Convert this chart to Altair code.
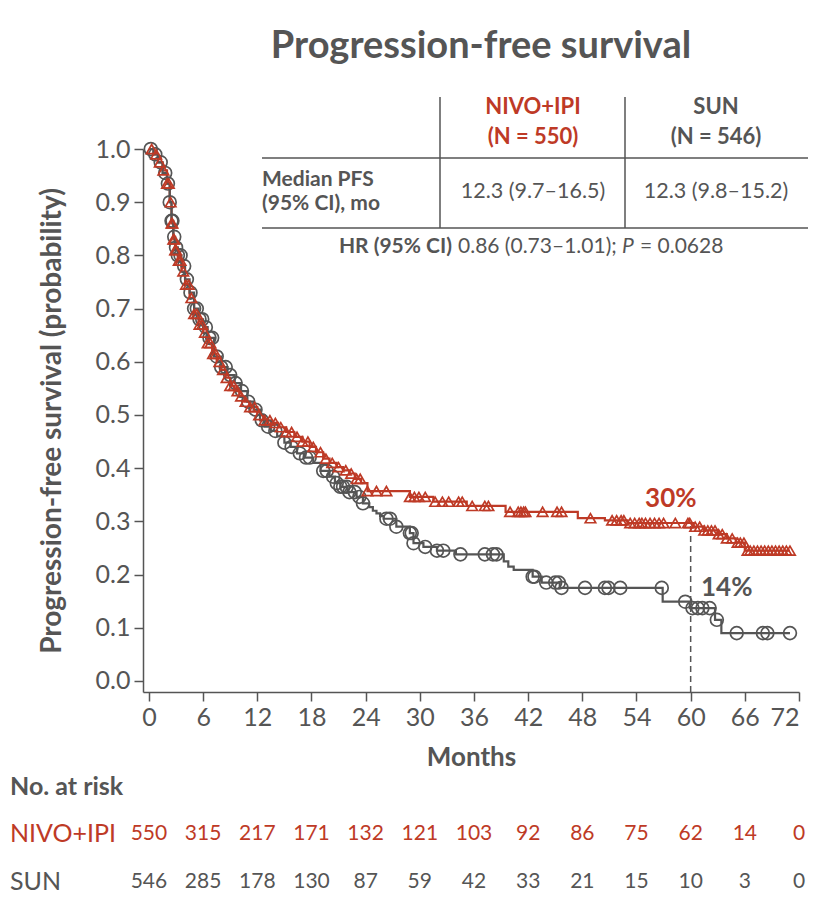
import altair as alt
import pandas as pd
import numpy as np

RED = "#BE3A26"
GRAY = "#555555"
FONT = "Lato"

# ---------------- data ----------------
nivo_t = [0, 0.5, 1.0, 1.5, 2.0, 2.3, 2.5, 2.7, 2.9, 3.2, 3.6, 4.0, 4.5, 5.0, 5.5, 6.0, 6.5, 7.0,
          7.5, 8.0, 8.5, 9.0, 9.5, 10.0, 10.6, 11.2, 12.0, 12.8, 13.5, 14.3, 15.2, 16.1, 17.0, 17.8,
          18.5, 19.3, 20.0, 20.8, 21.5, 22.2, 22.8, 23.5, 24.2, 28.9, 31.5, 35.2, 39.5, 47.5, 50.5,
          53.0, 60.3, 61.5, 63.0, 64.0, 65.0, 66.0]
nivo_s = [1.0, 0.99, 0.975, 0.96, 0.935, 0.90, 0.86, 0.83, 0.81, 0.79, 0.77, 0.745, 0.72, 0.69, 0.67,
          0.655, 0.635, 0.615, 0.60, 0.585, 0.57, 0.555, 0.545, 0.535, 0.525, 0.515, 0.50, 0.49, 0.485,
          0.477, 0.468, 0.459, 0.45, 0.44, 0.43, 0.418, 0.41, 0.402, 0.396, 0.39, 0.38, 0.372, 0.357,
          0.346, 0.337, 0.329, 0.318, 0.306, 0.302, 0.297, 0.29, 0.283, 0.276, 0.268, 0.26, 0.245]
sun_t = [0, 0.5, 1.0, 1.5, 2.0, 2.3, 2.5, 2.7, 2.9, 3.2, 3.6, 4.0, 4.5, 5.0, 5.5, 6.0, 6.5, 7.2, 8.0,
         8.7, 9.5, 10.2, 10.9, 11.6, 12.3, 12.8, 13.5, 14.2, 15.0, 15.7, 16.4, 17.2, 18.2, 19.0, 20.0,
         20.6, 21.2, 22.0, 23.0, 23.7, 24.4, 24.8, 25.2, 25.6, 26.0, 27.4, 28.9, 29.3, 30.4, 31.9, 34.0,
         39.3, 39.8, 40.4, 42.5, 43.5, 45.5, 56.9, 59.9, 62.7, 63.4]
sun_s = [1.0, 0.99, 0.975, 0.955, 0.935, 0.90, 0.865, 0.835, 0.815, 0.80, 0.78, 0.755, 0.73, 0.70, 0.68,
         0.665, 0.645, 0.61, 0.59, 0.575, 0.56, 0.545, 0.525, 0.51, 0.49, 0.478, 0.47, 0.46, 0.448, 0.44,
         0.428, 0.42, 0.41, 0.395, 0.384, 0.372, 0.365, 0.355, 0.346, 0.334, 0.327, 0.32, 0.315, 0.31,
         0.305, 0.29, 0.278, 0.259, 0.252, 0.245, 0.238, 0.225, 0.215, 0.209, 0.196, 0.185, 0.175, 0.149,
         0.137, 0.115, 0.09]
end_t = 71.0

nivo_cens = [0.3, 0.8, 1.2, 1.6, 2.0, 2.2, 2.4, 2.5, 2.6, 2.7, 2.8, 2.9, 3.0, 3.3, 3.5, 3.8, 4.1, 4.4,
             4.7, 5.0, 5.3, 5.6, 5.9, 6.2, 6.5, 6.8, 7.1, 7.4, 7.8, 8.2, 8.6, 9.0, 9.4, 9.8, 10.2, 10.7,
             11.2, 11.7, 12.2, 12.8, 13.4, 14.0, 14.6, 15.2, 15.8, 16.4, 17.0, 17.6, 18.2, 19.0, 19.6,
             20.3, 21.0, 21.8, 22.4, 23.0, 23.4, 24.2, 25.2, 26.3, 28.9, 29.4, 29.9, 30.6, 31.7, 32.5,
             33.2, 34.3, 34.7, 35.8, 37.2, 37.6, 40.0, 40.9, 41.2, 41.5, 41.7, 43.6, 45.2, 45.7, 48.9,
             51.3, 51.8, 52.3, 52.6, 53.3, 53.8, 54.3, 54.6, 55.0, 55.5, 56.0, 56.5, 57.0, 58.3, 59.7,
             59.9, 60.5, 61.0, 61.5, 61.9, 62.3, 62.7, 63.1, 63.5, 64.0, 64.6, 65.2, 65.5, 65.9, 66.3,
             66.6, 67.0, 67.4, 67.8, 68.2, 68.6, 69.0, 69.4, 69.8, 70.2, 70.6, 71.0]
sun_cens = [0.2, 0.7, 1.3, 1.8, 2.1, 2.3, 2.5, 2.6, 2.8, 3.0, 3.2, 3.5, 3.9, 4.2, 4.6, 5.0, 5.3, 5.6,
            5.9, 6.3, 6.7, 7.0, 7.5, 8.0, 8.5, 9.0, 9.6, 10.3, 11.0, 11.8, 12.5, 13.2, 14.0, 15.0, 15.8,
            16.7, 17.4, 17.8, 19.3, 19.7, 20.4, 20.8, 21.2, 21.5, 21.9, 22.2, 22.8, 23.3, 23.7, 26.3,
            26.7, 27.4, 28.9, 29.1, 29.3, 30.6, 31.9, 32.6, 34.5, 37.2, 38.1, 38.5, 42.5, 42.7, 44.0,
            45.0, 45.4, 45.7, 48.3, 50.5, 50.9, 52.2, 56.8, 59.4, 60.2, 60.8, 61.3, 62.1, 62.9, 65.1,
            68.0, 68.5, 71.0]

months = [0, 6, 12, 18, 24, 30, 36, 42, 48, 54, 60, 66, 72]
risk_nivo = [550, 315, 217, 171, 132, 121, 103, 92, 86, 75, 62, 14, 0]
risk_sun = [546, 285, 178, 130, 87, 59, 42, 33, 21, 15, 10, 3, 0]

landmark_t = 60
landmark_nivo = 0.297
pct_labels = ["30%", "14%"]
pct_t = [57.8, 64.0]
pct_s = [0.342, 0.175]

# ---------------- build tables ----------------
def lookup(times, surv, t):
    i = int(np.searchsorted(np.array(times), t, side="right")) - 1
    return surv[i]

lines = pd.DataFrame({
    "t": nivo_t + [end_t] + sun_t + [end_t],
    "s": nivo_s + [nivo_s[-1]] + sun_s + [sun_s[-1]],
    "arm": ["NIVO+IPI"] * (len(nivo_t) + 1) + ["SUN"] * (len(sun_t) + 1),
})
cens_n = pd.DataFrame({"t": nivo_cens, "s": [lookup(nivo_t, nivo_s, t) for t in nivo_cens]})
cens_s = pd.DataFrame({"t": sun_cens, "s": [lookup(sun_t, sun_s, t) for t in sun_cens]})
risk = pd.DataFrame({"t": months, "n": risk_nivo, "m": risk_sun})
pct = pd.DataFrame({"t": pct_t, "s": pct_s, "lab": pct_labels, "arm": ["NIVO+IPI", "SUN"]})
land = pd.DataFrame({"t": [landmark_t], "y0": [-0.0207], "y1": [landmark_nivo]})

XMIN, YMIN = -0.66, -0.0207
xs = alt.Scale(domain=[XMIN, 72], nice=False, zero=False)
ys = alt.Scale(domain=[YMIN, 1.0], nice=False, zero=False)
cs = alt.Scale(domain=["NIVO+IPI", "SUN"], range=[RED, GRAY])

xax = alt.Axis(values=months, title="Months", format="d", grid=False, labelFontSize=25,
               titleFontSize=26, labelPadding=4, titlePadding=14, tickSize=9)
yax = alt.Axis(values=[i / 10 for i in range(11)], format=".1f", title="Progression-free survival (probability)",
               grid=False, labelFontSize=25, titleFontSize=28, labelPadding=4, titlePadding=29, tickSize=9)

base_lines = alt.Chart(lines).mark_line(interpolate="step-after", strokeWidth=2.2).encode(
    x=alt.X("t:Q", scale=xs, axis=xax),
    y=alt.Y("s:Q", scale=ys, axis=yax),
    color=alt.Color("arm:N", scale=cs, legend=None),
)
tri = alt.Chart(cens_n).mark_point(shape="triangle-up", filled=False, size=110, strokeWidth=1.7, color=RED,
                                   opacity=1).encode(x=alt.X("t:Q", scale=xs), y=alt.Y("s:Q", scale=ys))
circ = alt.Chart(cens_s).mark_point(shape="circle", filled=False, size=165, strokeWidth=1.7, color=GRAY,
                                    opacity=1).encode(x=alt.X("t:Q", scale=xs), y=alt.Y("s:Q", scale=ys))
dash = alt.Chart(land).mark_rule(strokeDash=[6, 4], strokeWidth=1.5, color=GRAY).encode(
    x=alt.X("t:Q", scale=xs), y=alt.Y("y0:Q", scale=ys), y2="y1:Q")
pcts = alt.Chart(pct).mark_text(font=FONT, fontSize=26, fontWeight="bold").encode(
    x=alt.X("t:Q", scale=xs), y=alt.Y("s:Q", scale=ys), text="lab:N",
    color=alt.Color("arm:N", scale=cs, legend=None))

risk_n = alt.Chart(risk).mark_text(font=FONT, fontSize=21, color=RED, baseline="middle").encode(
    x=alt.X("t:Q", scale=xs), y=alt.value(685), text="n:Q")
risk_m = alt.Chart(risk).mark_text(font=FONT, fontSize=21, color=GRAY, baseline="middle").encode(
    x=alt.X("t:Q", scale=xs), y=alt.value(733), text="m:Q")


def txt(s, x, y, size=19, weight="normal", color=GRAY, align="center", style="normal"):
    return alt.Chart(pd.DataFrame({"v": [s]})).mark_text(
        font=FONT, fontSize=size, fontWeight=weight, color=color, align=align, baseline="middle",
        fontStyle=style).encode(x=alt.value(x), y=alt.value(y), text="v:N")


def hline(x1, x2, y):
    return alt.Chart(pd.DataFrame({"a": [0]})).mark_rule(color=GRAY, strokeWidth=1.5).encode(
        x=alt.value(x1), x2=alt.value(x2), y=alt.value(y))


def vline(x, y1, y2):
    return alt.Chart(pd.DataFrame({"a": [0]})).mark_rule(color=GRAY, strokeWidth=1.5).encode(
        x=alt.value(x), y=alt.value(y1), y2=alt.value(y2))

texts = [
    txt("Progression-free survival", 338, -102, size=38, weight="bold"),
    txt("NIVO+IPI", 390, -42, size=22, weight="bold", color=RED),
    txt("(N = 550)", 390, -12, size=22, weight="bold", color=RED),
    txt("SUN", 573, -42, size=22, weight="bold"),
    txt("(N = 546)", 573, -12, size=22, weight="bold"),
    txt("Median PFS", 119, 31, size=21, weight="bold", align="left"),
    txt("(95% CI), mo", 119, 55, size=21, weight="bold", align="left"),
    txt("12.3 (9.7–16.5)", 390, 43, size=21.5),
    txt("12.3 (9.8–15.2)", 573, 43, size=21.5),
    txt("HR (95% CI)", 309, 98, size=21, weight="bold", align="right"),
    txt("0.86 (0.73–1.01);", 315, 98, size=21, align="left"),
    txt("P", 479, 98, size=21, align="left", style="italic"),
    txt("= 0.0628", 497, 98, size=21, align="left"),
    txt("No. at risk", -133, 638, size=25, weight="bold", align="left"),
    txt("NIVO+IPI", -133, 685, size=25, color=RED, align="left"),
    txt("SUN", -133, 733, size=25, align="left"),
]
rules = [hline(119, 665, 9), hline(119, 665, 79), vline(297, -52, 79), vline(482, -52, 79)]

chart = alt.layer(base_lines, dash, circ, tri, pcts, risk_n, risk_m, *rules, *texts).properties(
    width=656, height=543,
    autosize=alt.AutoSizeParams(type="none"),
    padding={"left": 135, "top": 141, "right": 25, "bottom": 205},
).configure_view(strokeWidth=0).configure_axis(
    labelFont=FONT, titleFont=FONT, labelColor=GRAY, titleColor=GRAY, titleFontWeight="bold",
    domainColor=GRAY, tickColor=GRAY, domainWidth=1.5, tickWidth=1.5,
)

chart.save("out.html", embed_options={"renderer": "svg", "actions": False})
